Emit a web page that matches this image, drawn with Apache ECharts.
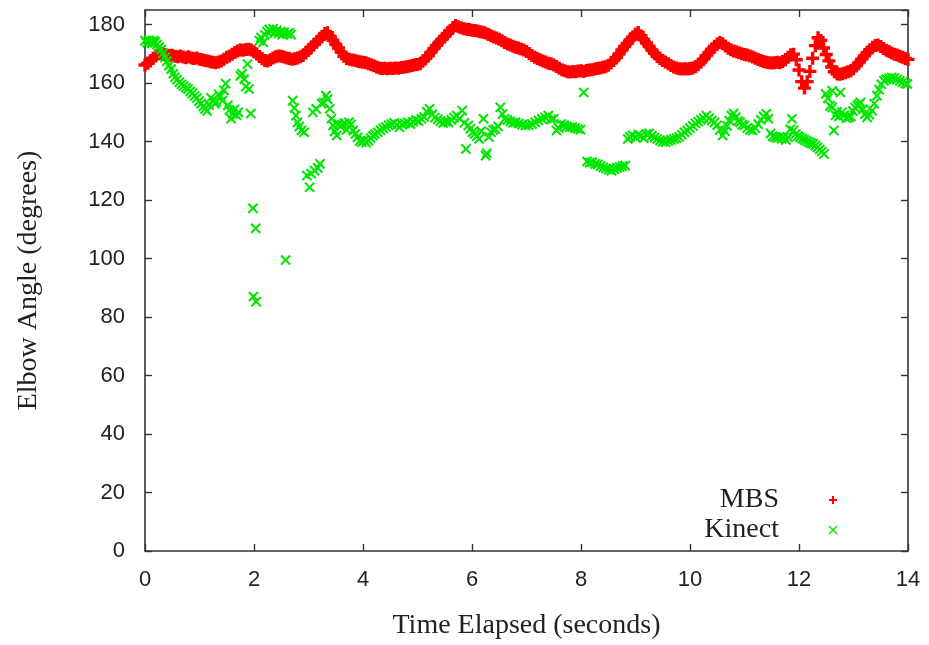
<!DOCTYPE html>
<html>
<head>
<meta charset="utf-8">
<script src="https://cdn.jsdelivr.net/npm/echarts@6/dist/echarts.min.js"></script>
<style>
  html, body { margin: 0; padding: 0; background: #ffffff; }
  #chart { width: 929px; height: 645px; }
</style>
</head>
<body>
<div id="chart"></div>
<script>
// Tick positions for both axes
const timeTicks = [0, 2, 4, 6, 8, 10, 12, 14];
const angleTicks = [0, 20, 40, 60, 80, 100, 120, 140, 160, 180];

// Motion-capture (MBS) elbow angle, one sample every 0.05 s from t = 0
const mbsPeriod = 0.05;
const mbsAngle = [
  166.2, 166.8, 167.6, 168.5, 169.4, 170.0, 170.2, 169.8, 169.6, 169.4, 169.5, 169.2, 169.0, 169.3, 168.9, 168.7, 169.0, 168.6, 168.4, 168.6,
  168.2, 168.0, 167.7, 167.6, 167.3, 167.1, 167.0, 167.2, 167.6, 168.2, 168.8, 169.3, 169.9, 170.5, 171.0, 171.3, 171.2, 171.5, 171.6, 171.3,
  170.7, 170.0, 169.1, 168.3, 167.7, 167.6, 168.0, 168.6, 169.0, 169.3, 169.2, 168.9, 168.6, 168.4, 168.2, 168.3, 168.6, 169.0, 169.4, 170.3,
  171.3, 172.3, 173.2, 174.1, 175.0, 176.0, 177.0, 177.2, 176.0, 174.6, 173.3, 172.0, 170.6, 169.2, 168.4, 168.2, 167.9, 167.8, 167.5, 167.3,
  167.1, 167.0, 166.6, 166.3, 165.9, 165.5, 165.2, 165.0, 165.1, 164.9, 165.1, 165.0, 165.2, 165.1, 165.3, 165.4, 165.6, 165.8, 166.0, 166.3,
  166.4, 166.6, 167.5, 168.5, 169.4, 170.6, 171.8, 172.9, 174.0, 175.0, 176.0, 177.0, 178.0, 179.0, 179.7, 179.3, 178.9, 178.6, 178.4, 178.3,
  178.1, 178.0, 177.8, 177.6, 177.4, 177.1, 176.6, 176.2, 175.8, 175.4, 175.0, 174.5, 173.9, 173.4, 173.0, 172.6, 172.3, 172.0, 171.7, 171.3,
  170.8, 170.1, 169.4, 168.8, 168.4, 168.0, 167.6, 167.2, 166.8, 166.6, 166.2, 165.7, 165.1, 164.6, 164.2, 163.9, 163.8, 164.0, 163.9, 164.1,
  164.2, 164.0, 164.3, 164.5, 164.6, 164.8, 165.0, 165.2, 165.4, 165.6, 166.1, 166.9, 167.7, 168.7, 170.0, 171.3, 172.5, 173.6, 174.8, 175.8,
  176.8, 177.3, 176.2, 174.9, 173.7, 172.5, 171.3, 170.2, 169.1, 168.3, 167.7, 167.2, 166.6, 166.0, 165.5, 165.2, 164.9, 164.8, 164.9, 164.8,
  165.0, 165.2, 165.6, 166.3, 167.2, 168.2, 169.4, 170.5, 171.6, 172.6, 173.4, 173.9, 173.5, 172.7, 171.9, 171.4, 171.0, 170.7, 170.4, 170.0,
  169.8, 169.6, 169.3, 168.9, 168.5, 168.1, 167.7, 167.4, 167.1, 167.0, 166.9, 167.0, 167.1, 167.0, 167.4, 168.0, 168.8, 169.7, 169.9, 168.0,
  164.5, 160.5, 158.3, 160.5, 164.0, 168.5, 172.8, 175.5, 174.6, 172.0, 169.8, 167.6, 165.5, 163.9, 163.1, 163.0, 163.2, 163.5, 163.9, 164.2,
  164.9, 165.9, 167.0, 168.2, 169.3, 170.4, 171.4, 172.3, 172.9, 173.0, 172.5, 171.8, 171.2, 170.8, 170.3, 169.9, 169.6, 169.2, 168.8, 168.4,
  168.1
];

// Kinect elbow angle samples (time in seconds, angle in degrees)
const kinectTime = [
  0.00, 0.04, 0.07, 0.10, 0.13, 0.16, 0.19, 0.22, 0.26, 0.30, 0.33, 0.37, 0.40, 0.44, 0.48, 0.52, 0.55, 0.59, 0.63, 0.67,
  0.71, 0.75, 0.79, 0.83, 0.87, 0.91, 0.95, 0.99, 1.03, 1.07, 1.10, 1.14, 1.18, 1.21, 1.25, 1.28, 1.31, 1.35, 1.38, 1.42,
  1.45, 1.48, 1.52, 1.55, 1.58, 1.61, 1.64, 1.68, 1.71, 1.75, 1.78, 1.82, 1.85, 1.88, 1.91, 1.94, 1.98, 1.99, 2.03, 2.04,
  2.10, 2.13, 2.17, 2.20, 2.24, 2.28, 2.31, 2.35, 2.38, 2.42, 2.45, 2.49, 2.52, 2.55, 2.58, 2.61, 2.65, 2.68, 2.71, 2.74,
  2.77, 2.80, 2.83, 2.87, 2.92, 2.97, 3.02, 3.05, 3.08, 3.11, 3.14, 3.17, 3.21, 3.24, 3.28, 3.32, 3.35, 3.39, 3.42, 3.45,
  3.48, 3.52, 3.55, 3.58, 3.62, 3.66, 3.70, 3.74, 3.78, 3.82, 3.86, 3.90, 3.94, 3.98, 4.02, 4.06, 4.10, 4.14, 4.18, 4.22,
  4.27, 4.32, 4.37, 4.42, 4.47, 4.52, 4.57, 4.62, 4.67, 4.72, 4.77, 4.82, 4.87, 4.92, 4.97, 5.02, 5.07, 5.12, 5.17, 5.22,
  5.27, 5.32, 5.37, 5.42, 5.47, 5.52, 5.57, 5.62, 5.67, 5.72, 5.77, 5.82, 5.86, 5.89, 5.93, 5.97, 6.01, 6.05, 6.09, 6.13,
  6.17, 6.21, 6.25, 6.27, 6.31, 6.35, 6.39, 6.43, 6.48, 6.52, 6.56, 6.60, 6.65, 6.70, 6.75, 6.80, 6.86, 6.92, 6.98, 7.04,
  7.10, 7.16, 7.22, 7.28, 7.34, 7.40, 7.45, 7.50, 7.55, 7.59, 7.64, 7.69, 7.74, 7.79, 7.84, 7.89, 7.94, 7.99, 8.05, 8.11,
  8.16, 8.21, 8.26, 8.31, 8.36, 8.41, 8.46, 8.51, 8.56, 8.61, 8.66, 8.71, 8.76, 8.81, 8.86, 8.90, 8.95, 9.00, 9.05, 9.10,
  9.15, 9.20, 9.25, 9.30, 9.35, 9.40, 9.45, 9.50, 9.55, 9.60, 9.65, 9.70, 9.75, 9.80, 9.85, 9.90, 9.95, 10.00, 10.05, 10.10,
  10.15, 10.20, 10.25, 10.30, 10.35, 10.40, 10.45, 10.50, 10.55, 10.60, 10.64, 10.68, 10.72, 10.76, 10.80, 10.84, 10.88, 10.92, 10.96, 11.00,
  11.05, 11.10, 11.15, 11.20, 11.25, 11.30, 11.35, 11.40, 11.44, 11.48, 11.52, 11.56, 11.60, 11.64, 11.68, 11.72, 11.76, 11.80, 11.84, 11.87,
  11.90, 11.94, 11.98, 12.02, 12.06, 12.10, 12.14, 12.18, 12.22, 12.26, 12.30, 12.34, 12.38, 12.42, 12.46, 12.49, 12.53, 12.57, 12.61, 12.61,
  12.64, 12.67, 12.70, 12.73, 12.76, 12.79, 12.83, 12.87, 12.91, 12.95, 12.99, 13.03, 13.07, 13.10, 13.13, 13.17, 13.21, 13.25, 13.29, 13.34,
  13.38, 13.43, 13.47, 13.51, 13.56, 13.60, 13.65, 13.70, 13.75, 13.80, 13.85, 13.90, 13.95, 13.99
];
const kinectAngle = [
  174.5, 173.8, 174.6, 174.2, 173.6, 174.5, 174.0, 173.2, 172.3, 171.5, 170.2, 168.8, 167.5, 166.0, 164.8, 163.2, 162.0, 161.2, 160.3, 159.6,
  159.0, 158.4, 158.0, 157.2, 156.5, 155.6, 154.9, 153.8, 153.0, 152.0, 151.2, 150.5, 152.5, 155.0, 154.2, 153.0, 153.6, 156.2, 155.5, 154.0,
  157.5, 159.8, 152.4, 150.8, 147.8, 149.5, 151.0, 149.0, 150.0, 162.5, 163.2, 161.4, 158.8, 166.5, 158.0, 149.6, 117.2, 87.0, 110.3, 85.3,
  174.5, 175.6, 174.0, 176.5, 177.6, 178.4, 177.8, 178.6, 177.2, 178.0, 177.0, 177.6, 176.6, 177.4, 99.5, 176.8, 177.3, 176.6, 154.0, 151.5,
  148.9, 146.6, 145.2, 143.8, 143.2, 128.4, 124.4, 129.0, 150.0, 130.1, 151.2, 131.0, 132.4, 153.0, 153.4, 155.7, 154.5, 151.2, 147.8, 145.5,
  143.5, 142.1, 146.0, 145.2, 145.8, 146.3, 144.0, 146.6, 145.9, 143.8, 142.6, 141.5, 140.2, 139.8, 140.4, 139.6, 140.3, 141.2, 142.0, 142.6,
  143.2, 143.9, 144.5, 145.0, 145.6, 146.0, 146.4, 145.6, 144.9, 145.8, 146.2, 146.6, 146.0, 146.8, 147.4, 147.0, 147.8, 148.4, 150.2, 151.2,
  149.3, 148.2, 147.6, 147.0, 146.4, 146.8, 146.6, 147.4, 148.2, 148.9, 147.9, 150.6, 146.4, 137.5, 145.5, 144.4, 143.2, 142.6, 141.8, 140.9,
  143.6, 147.8, 135.2, 136.0, 141.6, 143.2, 144.0, 144.3, 145.2, 151.7, 149.4, 147.8, 147.4, 146.9, 146.4, 146.6, 146.2, 145.8, 145.5, 145.6,
  146.0, 146.6, 147.2, 147.8, 148.3, 148.9, 147.6, 147.8, 143.8, 144.6, 146.0, 145.6, 145.2, 144.9, 145.0, 144.6, 144.3, 144.1, 156.8, 133.2,
  132.8, 133.0, 132.4, 132.2, 131.6, 131.2, 130.8, 130.4, 130.1, 130.6, 131.0, 131.3, 131.6, 131.8, 140.9, 141.6, 142.1, 141.5, 142.4, 142.0,
  141.2, 142.6, 142.8, 142.0, 141.4, 140.9, 140.4, 140.0, 139.8, 140.2, 140.6, 140.9, 141.2, 141.6, 142.4, 143.2, 143.8, 144.6, 145.4, 146.2,
  146.8, 147.4, 148.0, 148.9, 148.0, 147.2, 146.6, 145.6, 144.0, 142.1, 143.6, 145.4, 147.2, 148.9, 149.6, 148.4, 147.0, 146.6, 145.8, 145.5,
  144.6, 144.0, 143.8, 144.6, 146.0, 147.4, 148.6, 149.5, 147.8, 142.8, 141.8, 141.5, 141.2, 141.6, 141.0, 141.5, 140.6, 141.4, 144.2, 147.8,
  143.8, 142.6, 141.9, 141.5, 141.0, 140.6, 140.2, 139.8, 139.5, 139.2, 138.6, 138.0, 137.3, 136.6, 135.8, 156.3, 154.8, 152.2, 157.4, 151.7,
  143.8, 149.0, 150.2, 148.6, 156.8, 150.0, 149.0, 148.0, 148.3, 148.6, 150.4, 151.6, 152.3, 152.8, 153.4, 151.0, 149.4, 148.3, 149.2, 150.6,
  153.0, 155.7, 157.8, 159.6, 160.8, 161.3, 161.6, 161.9, 161.7, 161.2, 160.8, 160.3, 159.9, 159.7
];

const mbsColor = '#ff0000';
const kinectColor = '#00e600';
const frameColor = '#333333';
const textColor = '#222222';
const sansFont = '"Liberation Sans", Arial, sans-serif';
const serifFont = '"Liberation Serif", "Times New Roman", serif';

// Filled plus shapes; the thin one rotated 45 degrees gives the "x" marker
const plusPath = 'path://M3.7,0H6.3V3.7H10V6.3H6.3V10H3.7V6.3H0V3.7H3.7Z';
const thinPlusPath = 'path://M4.2,0H5.8V4.2H10V5.8H5.8V10H4.2V5.8H0V4.2H4.2Z';

const mbsData = mbsAngle.map((a, i) => [+(i * mbsPeriod).toFixed(2), a]);
const kinectData = kinectTime.map((t, i) => [t, kinectAngle[i]]);

// Frame lines with inward ticks on all four sides
function frameLine() {
  return { show: true, onZero: false, lineStyle: { color: frameColor, width: 1.6 } };
}
function innerTicks() {
  return { show: true, inside: true, length: 7, lineStyle: { color: frameColor, width: 1.4 } };
}

const chart = echarts.init(document.getElementById('chart'), null, { renderer: 'canvas' });
chart.setOption({
  animation: false,
  backgroundColor: '#ffffff',
  grid: { left: 145, right: 21, top: 10, bottom: 93, containLabel: false },
  xAxis: [
    {
      type: 'value', position: 'bottom',
      min: timeTicks[0], max: timeTicks[timeTicks.length - 1], interval: 2,
      axisLine: frameLine(), axisTick: innerTicks(), splitLine: { show: false },
      axisLabel: { fontFamily: sansFont, fontSize: 22, color: textColor, margin: 18 },
      name: 'Time Elapsed (seconds)', nameLocation: 'middle', nameGap: 61,
      nameTextStyle: { fontFamily: serifFont, fontSize: 28, color: textColor }
    },
    {
      type: 'value', position: 'top',
      min: timeTicks[0], max: timeTicks[timeTicks.length - 1], interval: 2,
      axisLine: frameLine(), axisTick: innerTicks(), splitLine: { show: false },
      axisLabel: { show: false }
    }
  ],
  yAxis: [
    {
      type: 'value', position: 'left',
      min: angleTicks[0], max: 185, interval: 20,
      axisLine: frameLine(), axisTick: innerTicks(), splitLine: { show: false },
      axisLabel: {
        fontFamily: sansFont, fontSize: 22, color: textColor, margin: 20, showMaxLabel: false,
        formatter: v => (angleTicks.indexOf(v) >= 0 ? String(v) : '')
      },
      name: 'Elbow Angle (degrees)', nameLocation: 'middle', nameGap: 102,
      nameTextStyle: { fontFamily: serifFont, fontSize: 28, color: textColor }
    },
    {
      type: 'value', position: 'right',
      min: angleTicks[0], max: 185, interval: 20,
      axisLine: frameLine(), axisTick: innerTicks(), splitLine: { show: false },
      axisLabel: { show: false }
    }
  ],
  series: [
    {
      name: 'MBS', type: 'scatter', data: mbsData,
      symbol: plusPath, symbolSize: 13, symbolKeepAspect: true,
      itemStyle: { color: mbsColor, opacity: 1 }
    },
    {
      name: 'Kinect', type: 'scatter', data: kinectData,
      symbol: thinPlusPath, symbolSize: 13, symbolRotate: 45, symbolKeepAspect: true,
      itemStyle: { color: kinectColor, opacity: 1 }
    }
  ],
  graphic: [
    { type: 'text', x: 779, y: 500,
      style: { text: 'MBS', fill: textColor, font: '28px ' + serifFont, textAlign: 'right', textVerticalAlign: 'middle' } },
    { type: 'text', x: 779, y: 530,
      style: { text: 'Kinect', fill: textColor, font: '28px ' + serifFont, textAlign: 'right', textVerticalAlign: 'middle' } },
    { type: 'line', shape: { x1: 829, y1: 500, x2: 837, y2: 500 }, style: { stroke: mbsColor, lineWidth: 2 } },
    { type: 'line', shape: { x1: 833, y1: 496, x2: 833, y2: 504 }, style: { stroke: mbsColor, lineWidth: 2 } },
    { type: 'line', shape: { x1: 829, y1: 526, x2: 837, y2: 534 }, style: { stroke: kinectColor, lineWidth: 1.5 } },
    { type: 'line', shape: { x1: 829, y1: 534, x2: 837, y2: 526 }, style: { stroke: kinectColor, lineWidth: 1.5 } }
  ]
});
</script>
</body>
</html>
